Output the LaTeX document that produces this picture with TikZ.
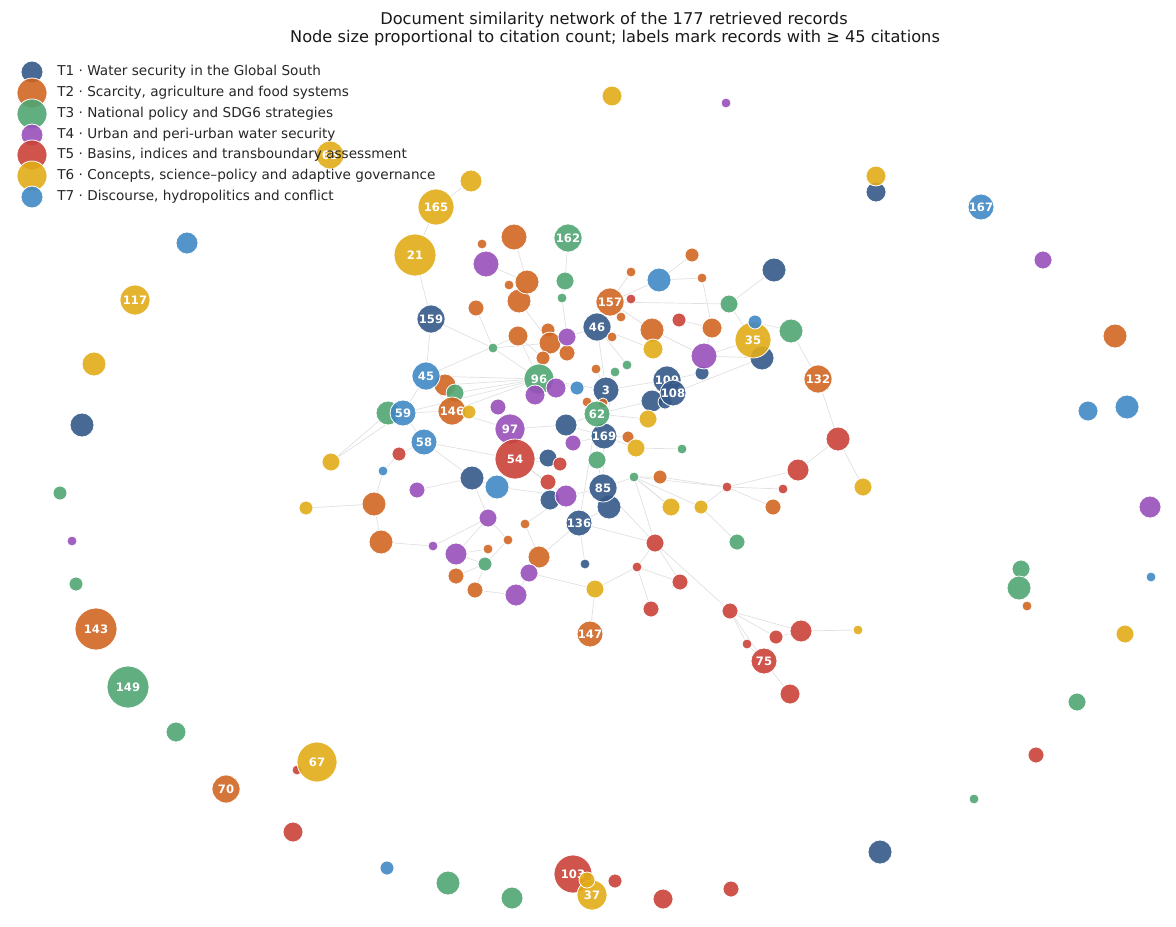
\documentclass[tikz,border=0pt]{standalone}
\usepackage{fontspec}
\setmainfont{DejaVu Sans}
\usepackage{tikz}
\pgfdeclarelayer{bg}
\pgfsetlayers{bg,main}

\definecolor{tone1}{RGB}{52,89,136}
\definecolor{tone2}{RGB}{208,102,34}
\definecolor{tone3}{RGB}{80,165,115}
\definecolor{tone4}{RGB}{152,80,186}
\definecolor{tone5}{RGB}{202,66,56}
\definecolor{tone6}{RGB}{226,172,24}
\definecolor{tone7}{RGB}{64,136,196}

\tikzset{
  rec/.style={circle, inner sep=0pt, draw=white, line width=0.4pt, fill opacity=0.9, text opacity=1,
    text=white, font=\fontsize{5.8}{6.5}\selectfont\bfseries},
  sz/.style={minimum size=#1pt},
  t1/.style={rec, fill=tone1}, t2/.style={rec, fill=tone2}, t3/.style={rec, fill=tone3},
  t4/.style={rec, fill=tone4}, t5/.style={rec, fill=tone5}, t6/.style={rec, fill=tone6},
  t7/.style={rec, fill=tone7},
  link/.style={draw=black!12, line width=0.35pt},
  legtext/.style={anchor=west, inner sep=0pt, text=black!85, font=\fontsize{6.8}{8}\selectfont},
  titletext/.style={inner sep=0pt, text=black!90, font=\fontsize{8.1}{9.5}\selectfont}
}

\begin{document}
\begin{tikzpicture}[x=0.5pt, y=-0.5pt]
		\useasboundingbox (0,0) rectangle (1176,926);
		
		%%%%% title %%%%%
		\node[titletext] (title1) at (614,20) {Document similarity network of the 177 retrieved records};
		\node[titletext] (title2) at (615,38) {Node size proportional to citation count; labels mark records with ≥ 45 citations};
		
		%%%%% T1 %%%%%
		\node[t1, sz=10] (a1) at (876,192) {};
		\node[t1, sz=12] (a2) at (82,425) {};
		\node[t1, sz=12] (a3) at (880,852) {};
		\node[t1, sz=12] (a4) at (774,270) {};
		\node[t1, sz=12] (a5) at (762,358) {};
		\node[t1, sz=7] (a6) at (702,373) {};
		\node[t1, sz=11] (a7) at (652,401) {};
		\node[t1, sz=7] (a8) at (665,402) {};
		\node[t1, sz=11] (a9) at (566,425) {};
		\node[t1, sz=9] (a10) at (548,458) {};
		\node[t1, sz=12] (a11) at (472,478) {};
		\node[t1, sz=10] (a12) at (550,500) {};
		\node[t1, sz=12] (a13) at (609,507) {};
		\node[t1, sz=5] (a14) at (585,564) {};
		\node[t1, sz=14] (n159) at (431,319) {159};
		\node[t1, sz=14] (n46) at (597,327) {46};
		\node[t1, sz=13] (n3) at (606,390) {3};
		\node[t1, sz=14] (n109) at (667,380) {109};
		\node[t1, sz=13] (n108) at (673,393) {108};
		\node[t1, sz=13] (n169) at (604,436) {169};
		\node[t1, sz=14] (n85) at (603,488) {85};
		\node[t1, sz=13] (n136) at (579,523) {136};
		
		%%%%% T2 %%%%%
		\node[t2, sz=12] (b1) at (1115,336) {};
		\node[t2, sz=5] (b2) at (1027,606) {};
		\node[t2, sz=13] (b3) at (514,237) {};
		\node[t2, sz=5] (b4) at (482,244) {};
		\node[t2, sz=5] (b6) at (509,285) {};
		\node[t2, sz=12] (b7) at (519,301) {};
		\node[t2, sz=12] (b5) at (527,282) {};
		\node[t2, sz=8] (b8) at (476,308) {};
		\node[t2, sz=5] (b9) at (631,272) {};
		\node[t2, sz=5] (b10) at (621,317) {};
		\node[t2, sz=5] (b11) at (612,337) {};
		\node[t2, sz=10] (b12) at (518,336) {};
		\node[t2, sz=7] (b13) at (548,330) {};
		\node[t2, sz=11] (b14) at (550,343) {};
		\node[t2, sz=8] (b15) at (567,353) {};
		\node[t2, sz=7] (b16) at (543,358) {};
		\node[t2, sz=5] (b17) at (596,369) {};
		\node[t2, sz=11] (b18) at (445,385) {};
		\node[t2, sz=5] (b19) at (587,402) {};
		\node[t2, sz=5] (b20) at (603,403) {};
		\node[t2, sz=7] (b21) at (692,255) {};
		\node[t2, sz=5] (b22) at (702,278) {};
		\node[t2, sz=12] (b23) at (652,330) {};
		\node[t2, sz=10] (b24) at (712,328) {};
		\node[t2, sz=6] (b25) at (628,437) {};
		\node[t2, sz=7] (b26) at (660,477) {};
		\node[t2, sz=8] (b27) at (773,507) {};
		\node[t2, sz=12] (b28) at (374,504) {};
		\node[t2, sz=12] (b29) at (381,542) {};
		\node[t2, sz=5] (b30) at (525,524) {};
		\node[t2, sz=5] (b31) at (508,540) {};
		\node[t2, sz=5] (b32) at (488,549) {};
		\node[t2, sz=11] (b33) at (539,557) {};
		\node[t2, sz=8] (b34) at (456,576) {};
		\node[t2, sz=8] (b35) at (475,590) {};
		\node[t2, sz=14] (n157) at (610,302) {157};
		\node[t2, sz=14] (n132) at (818,379) {132};
		\node[t2, sz=13] (n147) at (590,634) {147};
		\node[t2, sz=21] (n143) at (96,629) {143};
		\node[t2, sz=14] (n70) at (226,789) {70};
		
		%%%%% T3 %%%%%
		\node[t3, sz=9] (c1) at (1021,569) {};
		\node[t3, sz=12] (c2) at (1019,588) {};
		\node[t3, sz=9] (c3) at (1077,702) {};
		\node[t3, sz=5] (c4) at (974,799) {};
		\node[t3, sz=11] (c5) at (512,898) {};
		\node[t3, sz=12] (c6) at (448,883) {};
		\node[t3, sz=10] (c7) at (176,732) {};
		\node[t3, sz=7] (c8) at (76,584) {};
		\node[t3, sz=7] (c9) at (60,493) {};
		\node[t3, sz=9] (c10) at (565,281) {};
		\node[t3, sz=5] (c11) at (562,298) {};
		\node[t3, sz=5] (c12) at (493,348) {};
		\node[t3, sz=5] (c13) at (615,372) {};
		\node[t3, sz=5] (c14) at (627,365) {};
		\node[t3, sz=12] (c16) at (388,413) {};
		\node[t3, sz=9] (c17) at (729,304) {};
		\node[t3, sz=12] (c18) at (791,331) {};
		\node[t3, sz=9] (c19) at (597,460) {};
		\node[t3, sz=5] (c20) at (634,477) {};
		\node[t3, sz=5] (c21) at (682,449) {};
		\node[t3, sz=8] (c22) at (737,542) {};
		\node[t3, sz=7] (c23) at (485,564) {};
		\node[t3, sz=14] (n162) at (568,238) {162};
		\node[t3, sz=21] (n149) at (128,687) {149};
		
		%%%%% T4 %%%%%
		\node[t4, sz=5] (d1) at (726,103) {};
		\node[t4, sz=9] (d2) at (1043,260) {};
		\node[t4, sz=11] (d3) at (1150,507) {};
		\node[t4, sz=5] (d4) at (72,541) {};
		\node[t4, sz=13] (d5) at (486,264) {};
		\node[t4, sz=9] (d6) at (567,337) {};
		\node[t4, sz=8] (d9) at (498,407) {};
		\node[t4, sz=13] (d10) at (704,356) {};
		\node[t4, sz=8] (d11) at (573,443) {};
		\node[t4, sz=8] (d12) at (417,490) {};
		\node[t4, sz=9] (d14) at (488,518) {};
		\node[t4, sz=5] (d15) at (433,546) {};
		\node[t4, sz=11] (d16) at (456,554) {};
		\node[t4, sz=9] (d17) at (529,573) {};
		\node[t4, sz=11] (d18) at (516,595) {};
		\node[t3, sz=15] (n96) at (539,379) {96};
		\node[t4, sz=10] (d7) at (556,388) {};
		\node[t4, sz=10] (d8) at (535,395) {};
		\node[t4, sz=15] (n97) at (510,429) {97};
		
		%%%%% T5 %%%%%
		\node[t5, sz=8] (e1) at (1036,755) {};
		\node[t5, sz=8] (e2) at (731,889) {};
		\node[t5, sz=10] (e3) at (663,899) {};
		\node[t5, sz=7] (e4) at (615,881) {};
		\node[t5, sz=10] (e5) at (293,832) {};
		\node[t5, sz=5] (e6) at (297,770) {};
		\node[t5, sz=5] (e7) at (631,299) {};
		\node[t5, sz=7] (e8) at (679,320) {};
		\node[t5, sz=7] (e9) at (399,454) {};
		\node[t5, sz=20] (n54) at (515,459) {54};
		\node[t5, sz=7] (e10) at (560,464) {};
		\node[t5, sz=8] (e11) at (548,482) {};
		\node[t4, sz=11] (d13) at (566,496) {};
		\node[t5, sz=12] (e12) at (838,439) {};
		\node[t5, sz=11] (e13) at (798,470) {};
		\node[t5, sz=5] (e14) at (727,487) {};
		\node[t5, sz=5] (e15) at (783,489) {};
		\node[t5, sz=9] (e16) at (655,543) {};
		\node[t5, sz=5] (e17) at (637,567) {};
		\node[t5, sz=8] (e18) at (680,582) {};
		\node[t5, sz=8] (e19) at (651,609) {};
		\node[t5, sz=8] (e20) at (730,611) {};
		\node[t5, sz=11] (e21) at (801,631) {};
		\node[t5, sz=7] (e22) at (776,637) {};
		\node[t5, sz=5] (e23) at (747,644) {};
		\node[t5, sz=10] (e24) at (790,694) {};
		\node[t5, sz=13] (n75) at (764,661) {75};
		\node[t5, sz=19] (n103) at (573,874) {103};
		
		%%%%% T6 %%%%%
		\node[t6, sz=10] (f1) at (612,96) {};
		\node[t6, sz=10] (f2) at (876,176) {};
		\node[t6, sz=9] (f3) at (1125,634) {};
		\node[t6, sz=12] (f5) at (94,364) {};
		\node[t6, sz=11] (f6) at (471,181) {};
		\node[t6, sz=10] (f7) at (653,349) {};
		\node[t6, sz=9] (f9) at (648,419) {};
		\node[t6, sz=9] (f10) at (636,448) {};
		\node[t6, sz=9] (f11) at (331,462) {};
		\node[t6, sz=7] (f12) at (306,508) {};
		\node[t6, sz=9] (f13) at (863,487) {};
		\node[t6, sz=9] (f14) at (671,507) {};
		\node[t6, sz=7] (f15) at (701,507) {};
		\node[t6, sz=9] (f16) at (595,589) {};
		\node[t6, sz=5] (f17) at (858,630) {};
		\node[t6, sz=18] (n165) at (436,207) {165};
		\node[t6, sz=21] (n21) at (415,255) {21};
		\node[t6, sz=14] (n65) at (330,155) {65};
		\node[t6, sz=15] (n117) at (135,300) {117};
		\node[t6, sz=18] (n35) at (753,340) {35};
		\node[t6, sz=20] (n67) at (317,762) {67};
		\node[t6, sz=15] (n37) at (592,895) {37};
		\node[t6, sz=8] (f4) at (587,880) {};
		
		%%%%% T7 %%%%%
		\node[t7, sz=10] (g1) at (1088,411) {};
		\node[t7, sz=12] (g2) at (1127,407) {};
		\node[t7, sz=5] (g3) at (1151,577) {};
		\node[t7, sz=7] (g4) at (387,868) {};
		\node[t7, sz=11] (g5) at (187,243) {};
		\node[t7, sz=12] (g6) at (659,280) {};
		\node[t7, sz=7] (g7) at (755,322) {};
		\node[t7, sz=7] (g8) at (577,388) {};
		\node[t7, sz=5] (g9) at (383,471) {};
		\node[t7, sz=12] (g10) at (497,487) {};
		\node[t7, sz=13] (n167) at (981,207) {167};
		\node[t7, sz=14] (n45) at (426,376) {45};
		\node[t3, sz=9] (c15) at (455,393) {};
		\node[t2, sz=14] (n146) at (452,411) {146};
		\node[t6, sz=7] (f8) at (469,412) {};
		\node[t7, sz=13] (n59) at (403,413) {59};
		\node[t7, sz=13] (n58) at (424,442) {58};
		\node[t3, sz=13] (n62) at (597,414) {62};
		
		%%%%% links %%%%%
		\begin{pgfonlayer}{bg}
		\draw[link] (n165) -- (f6) (n165) -- (n21) (n21) -- (n159) (n159) -- (n45) (n159) -- (c12);
		\draw[link] (n162) -- (c10) (c10) -- (c11) (c11) -- (d6) (b3) -- (b5) (d5) -- (b5) (b4) -- (d5);
		\draw[link] (b8) -- (c12) (c12) -- (n96) (c12) -- (b14) (b6) -- (b7) (b7) -- (b14) (b12) -- (b16);
		\draw[link] (n157) -- (b9) (n157) -- (e7) (n157) -- (b10) (n157) -- (n46) (n157) -- (c17);
		\draw[link] (g6) -- (b21) (g6) -- (b22) (b22) -- (b24) (g6) -- (n157) (a4) -- (c17);
		\draw[link] (c17) -- (n35) (g7) -- (c18) (c18) -- (n132) (n132) -- (e12) (e12) -- (e13) (e12) -- (f13);
		\draw[link] (e13) -- (e14) (e14) -- (e15) (e14) -- (f15) (e14) -- (b26) (e14) -- (b27) (f15) -- (c22);
		\draw[link] (b26) -- (c20) (c20) -- (e16) (c20) -- (f14) (e16) -- (e17) (e16) -- (e18) (e16) -- (e20);
		\draw[link] (e17) -- (e19) (e17) -- (f16) (e17) -- (e18) (e20) -- (e21) (e20) -- (e22) (e20) -- (e23);
		\draw[link] (e20) -- (n75) (e21) -- (f17) (e21) -- (e22) (n75) -- (e24) (n75) -- (e23) (f16) -- (n147);
		\draw[link] (a14) -- (n136) (n136) -- (e16) (n85) -- (c20) (n85) -- (e16) (c20) -- (e14);
		\draw[link] (n45) -- (n59) (n59) -- (n58) (n58) -- (e9) (e9) -- (g9) (g9) -- (b28) (b28) -- (b29);
		\draw[link] (b29) -- (d15) (d15) -- (d14) (d14) -- (a11) (f11) -- (c16) (f11) -- (n59) (f12) -- (b28);
		\draw[link] (d12) -- (a11) (n58) -- (a11) (a11) -- (g10) (d16) -- (b32) (d16) -- (d14) (d16) -- (c23);
		\draw[link] (b34) -- (c23) (c23) -- (b31) (b35) -- (d18) (d18) -- (d17) (d17) -- (b33) (b33) -- (b30);
		\draw[link] (d17) -- (f16) (b33) -- (n136) (b31) -- (d14) (b30) -- (d13) (b35) -- (c23);
		\draw[link] (n96) -- (n45) (n96) -- (n146) (n96) -- (b18) (n96) -- (d7) (n96) -- (d8) (n96) -- (n3);
		\draw[link] (n96) -- (g8) (n96) -- (b16) (n96) -- (c15) (n3) -- (n62) (n3) -- (n109) (n3) -- (c13);
		\draw[link] (n3) -- (b17) (n3) -- (n46) (n46) -- (d6) (n46) -- (b11) (n62) -- (n169) (n62) -- (a7);
		\draw[link] (n62) -- (f9) (n169) -- (n85) (n169) -- (f10) (n169) -- (b25) (n85) -- (a13) (n85) -- (c19);
		\draw[link] (n85) -- (d13) (n54) -- (n97) (n54) -- (a10) (n54) -- (e10) (n54) -- (g10) (n54) -- (d13);
		\draw[link] (n97) -- (d9) (n97) -- (a9) (a9) -- (n169) (a9) -- (n62) (n109) -- (a6) (n109) -- (n108);
		\draw[link] (a6) -- (d10) (d10) -- (n35) (d10) -- (a5) (d10) -- (b24) (f7) -- (b23) (b23) -- (n157);
		\draw[link] (b23) -- (d10) (e8) -- (b24) (n46) -- (f7) (n146) -- (f8) (n146) -- (n45) (n146) -- (c15);
		\draw[link] (n45) -- (b18) (b18) -- (c15) (n59) -- (n96) (c16) -- (n59) (f10) -- (c21) (a13) -- (n136);
		\draw[link] (e11) -- (a12) (e11) -- (n54) (a12) -- (d13) (d11) -- (n169) (c19) -- (n62) (n108) -- (a5);
		\draw[link] (c14) -- (n46) (c13) -- (n169) (b19) -- (n62) (b20) -- (n3) (a8) -- (a7) (a7) -- (n108);
		\draw[link] (n96) -- (b12) (b13) -- (b14) (b15) -- (d6) (b14) -- (n96) (n45) -- (b12) (n59) -- (n146);
		\draw[link] (f14) -- (c20) (c20) -- (f15) (n136) -- (n62) (n58) -- (n54) (g10) -- (d13) (n97) -- (n146);
		\end{pgfonlayer}
		
		%%%%% legend %%%%%
		\node[t1, sz=11] (k1) at (32,72) {};
		\node[t2, sz=15] (k2) at (32,93) {};
		\node[t3, sz=15] (k3) at (32,114) {};
		\node[t4, sz=11] (k4) at (32,135) {};
		\node[t5, sz=15] (k5) at (32,155) {};
		\node[t6, sz=15] (k6) at (32,176) {};
		\node[t7, sz=11] (k7) at (32,197) {};
		\node[legtext] (l1) at (57,72) {T1 · Water security in the Global South};
		\node[legtext] (l2) at (57,93) {T2 · Scarcity, agriculture and food systems};
		\node[legtext] (l3) at (57,114) {T3 · National policy and SDG6 strategies};
		\node[legtext] (l4) at (57,135) {T4 · Urban and peri-urban water security};
		\node[legtext] (l5) at (57,155) {T5 · Basins, indices and transboundary assessment};
		\node[legtext] (l6) at (57,176) {T6 · Concepts, science–policy and adaptive governance};
		\node[legtext] (l7) at (57,197) {T7 · Discourse, hydropolitics and conflict};
		
	\end{tikzpicture}
\end{document}
